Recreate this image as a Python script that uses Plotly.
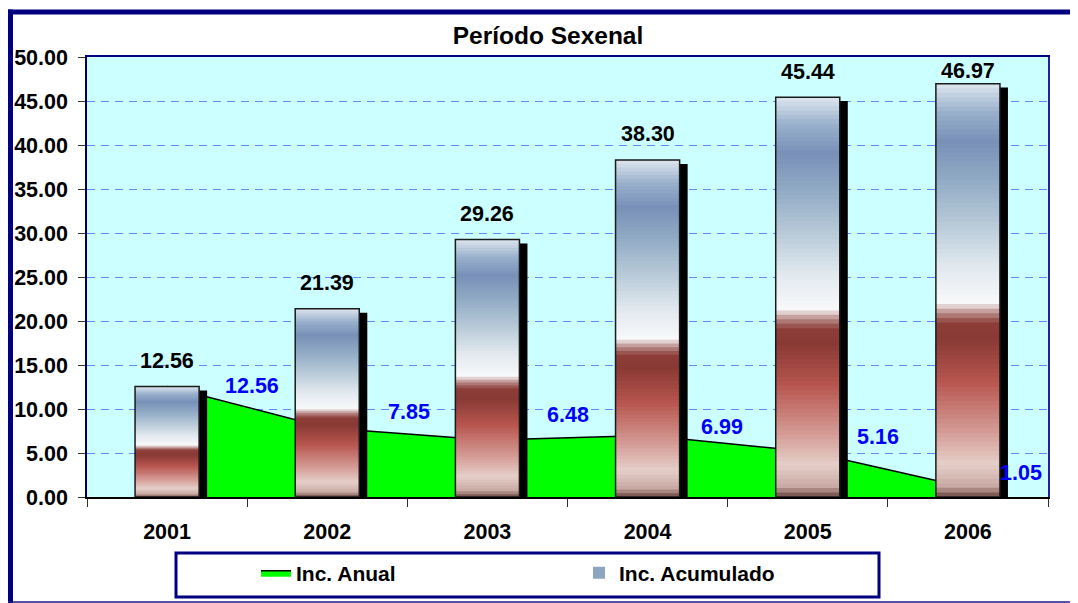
import numpy as np
import plotly.graph_objects as go

# data
years = ["2001", "2002", "2003", "2004", "2005", "2006"]
inc_anual = [12.56, 7.85, 6.48, 6.99, 5.16, 1.05]
inc_acumulado = [12.56, 21.39, 29.26, 38.30, 45.44, 46.97]

# gradient of the bars, bottom (0) to top (1)
grad_pos = [0.0, 0.025, 0.08, 0.16, 0.28, 0.38, 0.42, 0.445, 0.47, 0.56, 0.66, 0.77, 0.86, 0.93, 1.0]
grad_col = ["#6a4540", "#c8a8a2", "#e6cfc9", "#d49a94", "#b8554f", "#8a3a35", "#8d3d38",
            "#b88a88", "#f8f8fa", "#e0e8ee", "#b8cad8", "#90aac4", "#7890b8", "#98b0cc", "#dde6ee"]

FONT = "Liberation Sans, Arial, sans-serif"
NAVY = "#000080"

# the page has an 8px body margin, so the figure is drawn 8px in from the window corner
OFF = 8
W, H = 1078 - OFF, 603 - OFF
# plot area in window pixels
L, R, T, B = 87, 1048, 57, 497


def px(x):
    return (x - L) / (R - L)


def py(y):
    return (B - y) / (B - T)


def hex_rgb(h):
    return np.array([int(h[i:i + 2], 16) for i in (1, 3, 5)], dtype=float)


def grad_at(f):
    rgb = [np.interp(f, grad_pos, [hex_rgb(c)[k] for c in grad_col]) for k in range(3)]
    return "rgb(%d,%d,%d)" % tuple(int(round(v)) for v in rgb)


vals = np.array(inc_acumulado)
bar_w = 0.4

fig = go.Figure()

# green area (bottom subplot, so the bars sit on top of it)
fig.add_trace(go.Scatter(
    x=years, y=inc_anual, name="Inc. Anual",
    mode="lines", fill="tozeroy", fillcolor="#00ff00",
    line=dict(color="black", width=1.5),
    hoverinfo="skip"
))

# shadow behind each bar
fig.add_trace(go.Bar(
    x=years, y=vals - 0.45, base=0, xaxis="x2", yaxis="y2",
    width=bar_w, offset=-bar_w / 2 + 0.05,
    marker=dict(color="black", line=dict(width=0)),
    showlegend=False, hoverinfo="skip"
))

# gradient: thin slices of every bar
N = 90
for k in range(N):
    top = min(k + 1.7, N)
    fig.add_trace(go.Bar(
        x=years, y=vals * (top - k) / N, base=vals * k / N,
        xaxis="x2", yaxis="y2",
        width=bar_w, offset=-bar_w / 2,
        marker=dict(color=grad_at((k + 0.5) / N), line=dict(width=0)),
        name="Inc. Acumulado", showlegend=(k == 70),
        hoverinfo="skip"
    ))

# outline of the bars
fig.add_trace(go.Bar(
    x=years, y=vals, base=0, xaxis="x2", yaxis="y2",
    width=bar_w, offset=-bar_w / 2,
    marker=dict(color="rgba(0,0,0,0)", line=dict(color="#1a1a1a", width=1.5)),
    showlegend=False, hoverinfo="skip"
))

annotations = []
# value labels over the bars (kept inside the plot area like Excel does)
for i, v in enumerate(inc_acumulado):
    annotations.append(dict(
        x=i, y=min(v + 2.9, 48.4), xref="x", yref="y",
        text="%.2f" % v, showarrow=False,
        font=dict(family=FONT, size=21.5, color="black", weight="bold")
    ))

# labels of the area, nudged in pixels as in the reference
nudge = [(5, 0), (2, 16), (0, 25), (-6, 8), (-10, 15), (-27, 15)]
for i, v in enumerate(inc_anual):
    annotations.append(dict(
        x=i + 0.5, y=v, xref="x", yref="y",
        xshift=nudge[i][0], yshift=nudge[i][1],
        text="%.2f" % v, showarrow=False,
        font=dict(family=FONT, size=21.5, color="#0000ff", weight="bold")
    ))

shapes = [
    # outer frame of the chart
    dict(type="line", xref="paper", yref="paper", x0=px(8), x1=px(1078), y0=py(12), y1=py(12),
         line=dict(color=NAVY, width=5)),
    dict(type="line", xref="paper", yref="paper", x0=px(10.5), x1=px(10.5), y0=py(9.5), y1=py(603),
         line=dict(color=NAVY, width=5)),
    dict(type="line", xref="paper", yref="paper", x0=px(8), x1=px(1078), y0=py(602), y1=py(602),
         line=dict(color="#1a1a8a", width=1.5)),
    # legend frame
    dict(type="rect", xref="paper", yref="paper", x0=px(176), x1=px(879), y0=py(553), y1=py(597),
         line=dict(color=NAVY, width=3)),
]

fig.update_layout(
    width=W, height=H,
    margin=dict(l=L - OFF, r=1078 - R, t=T - OFF, b=603 - B, autoexpand=False),
    paper_bgcolor="white", plot_bgcolor="#ccffff",
    font=dict(family=FONT, size=21, color="black"),
    title=dict(text="Período Sexenal", x=(548 - OFF) / W, xanchor="center",
               y=1 - (35 - OFF) / H, yanchor="middle",
               font=dict(family=FONT, size=24.5, color="black", weight="bold")),
    barmode="overlay",
    showlegend=True,
    legend=dict(orientation="h", x=px(256), xanchor="left", y=py(573), yanchor="middle",
                bgcolor="rgba(0,0,0,0)", borderwidth=0, entrywidth=278,
                font=dict(family=FONT, size=21, color="black", weight="bold")),
    xaxis=dict(type="category", range=[-0.5, 5.5], tickson="boundaries",
               ticks="outside", ticklen=8, tickcolor="#333333",
               showline=True, linecolor="black", linewidth=1.5,
               showgrid=False, ticklabelstandoff=14,
               tickfont=dict(family=FONT, size=21.5, color="black", weight="bold")),
    yaxis=dict(range=[0, 50], dtick=5, tickformat=".2f",
               ticks="outside", ticklen=7, tickcolor="#333333",
               showline=True, linecolor="#000050", linewidth=1.5,
               showgrid=True, gridcolor="#6688ff", gridwidth=1, griddash="8px,6px",
               zeroline=False, ticklabelstandoff=6,
               tickfont=dict(family=FONT, size=21.5, color="black", weight="bold")),
    xaxis2=dict(type="category", overlaying="x", range=[-0.5, 5.5], side="top",
                showline=True, linecolor=NAVY, linewidth=2,
                showticklabels=False, ticks="", showgrid=False, anchor="y2"),
    yaxis2=dict(overlaying="y", range=[0, 50], side="right",
                showline=True, linecolor="#2020a0", linewidth=2,
                showticklabels=False, ticks="", showgrid=False, zeroline=False, anchor="x2"),
    annotations=annotations,
    shapes=shapes,
)

fig.write_html("out.html", config={"displayModeBar": False})
